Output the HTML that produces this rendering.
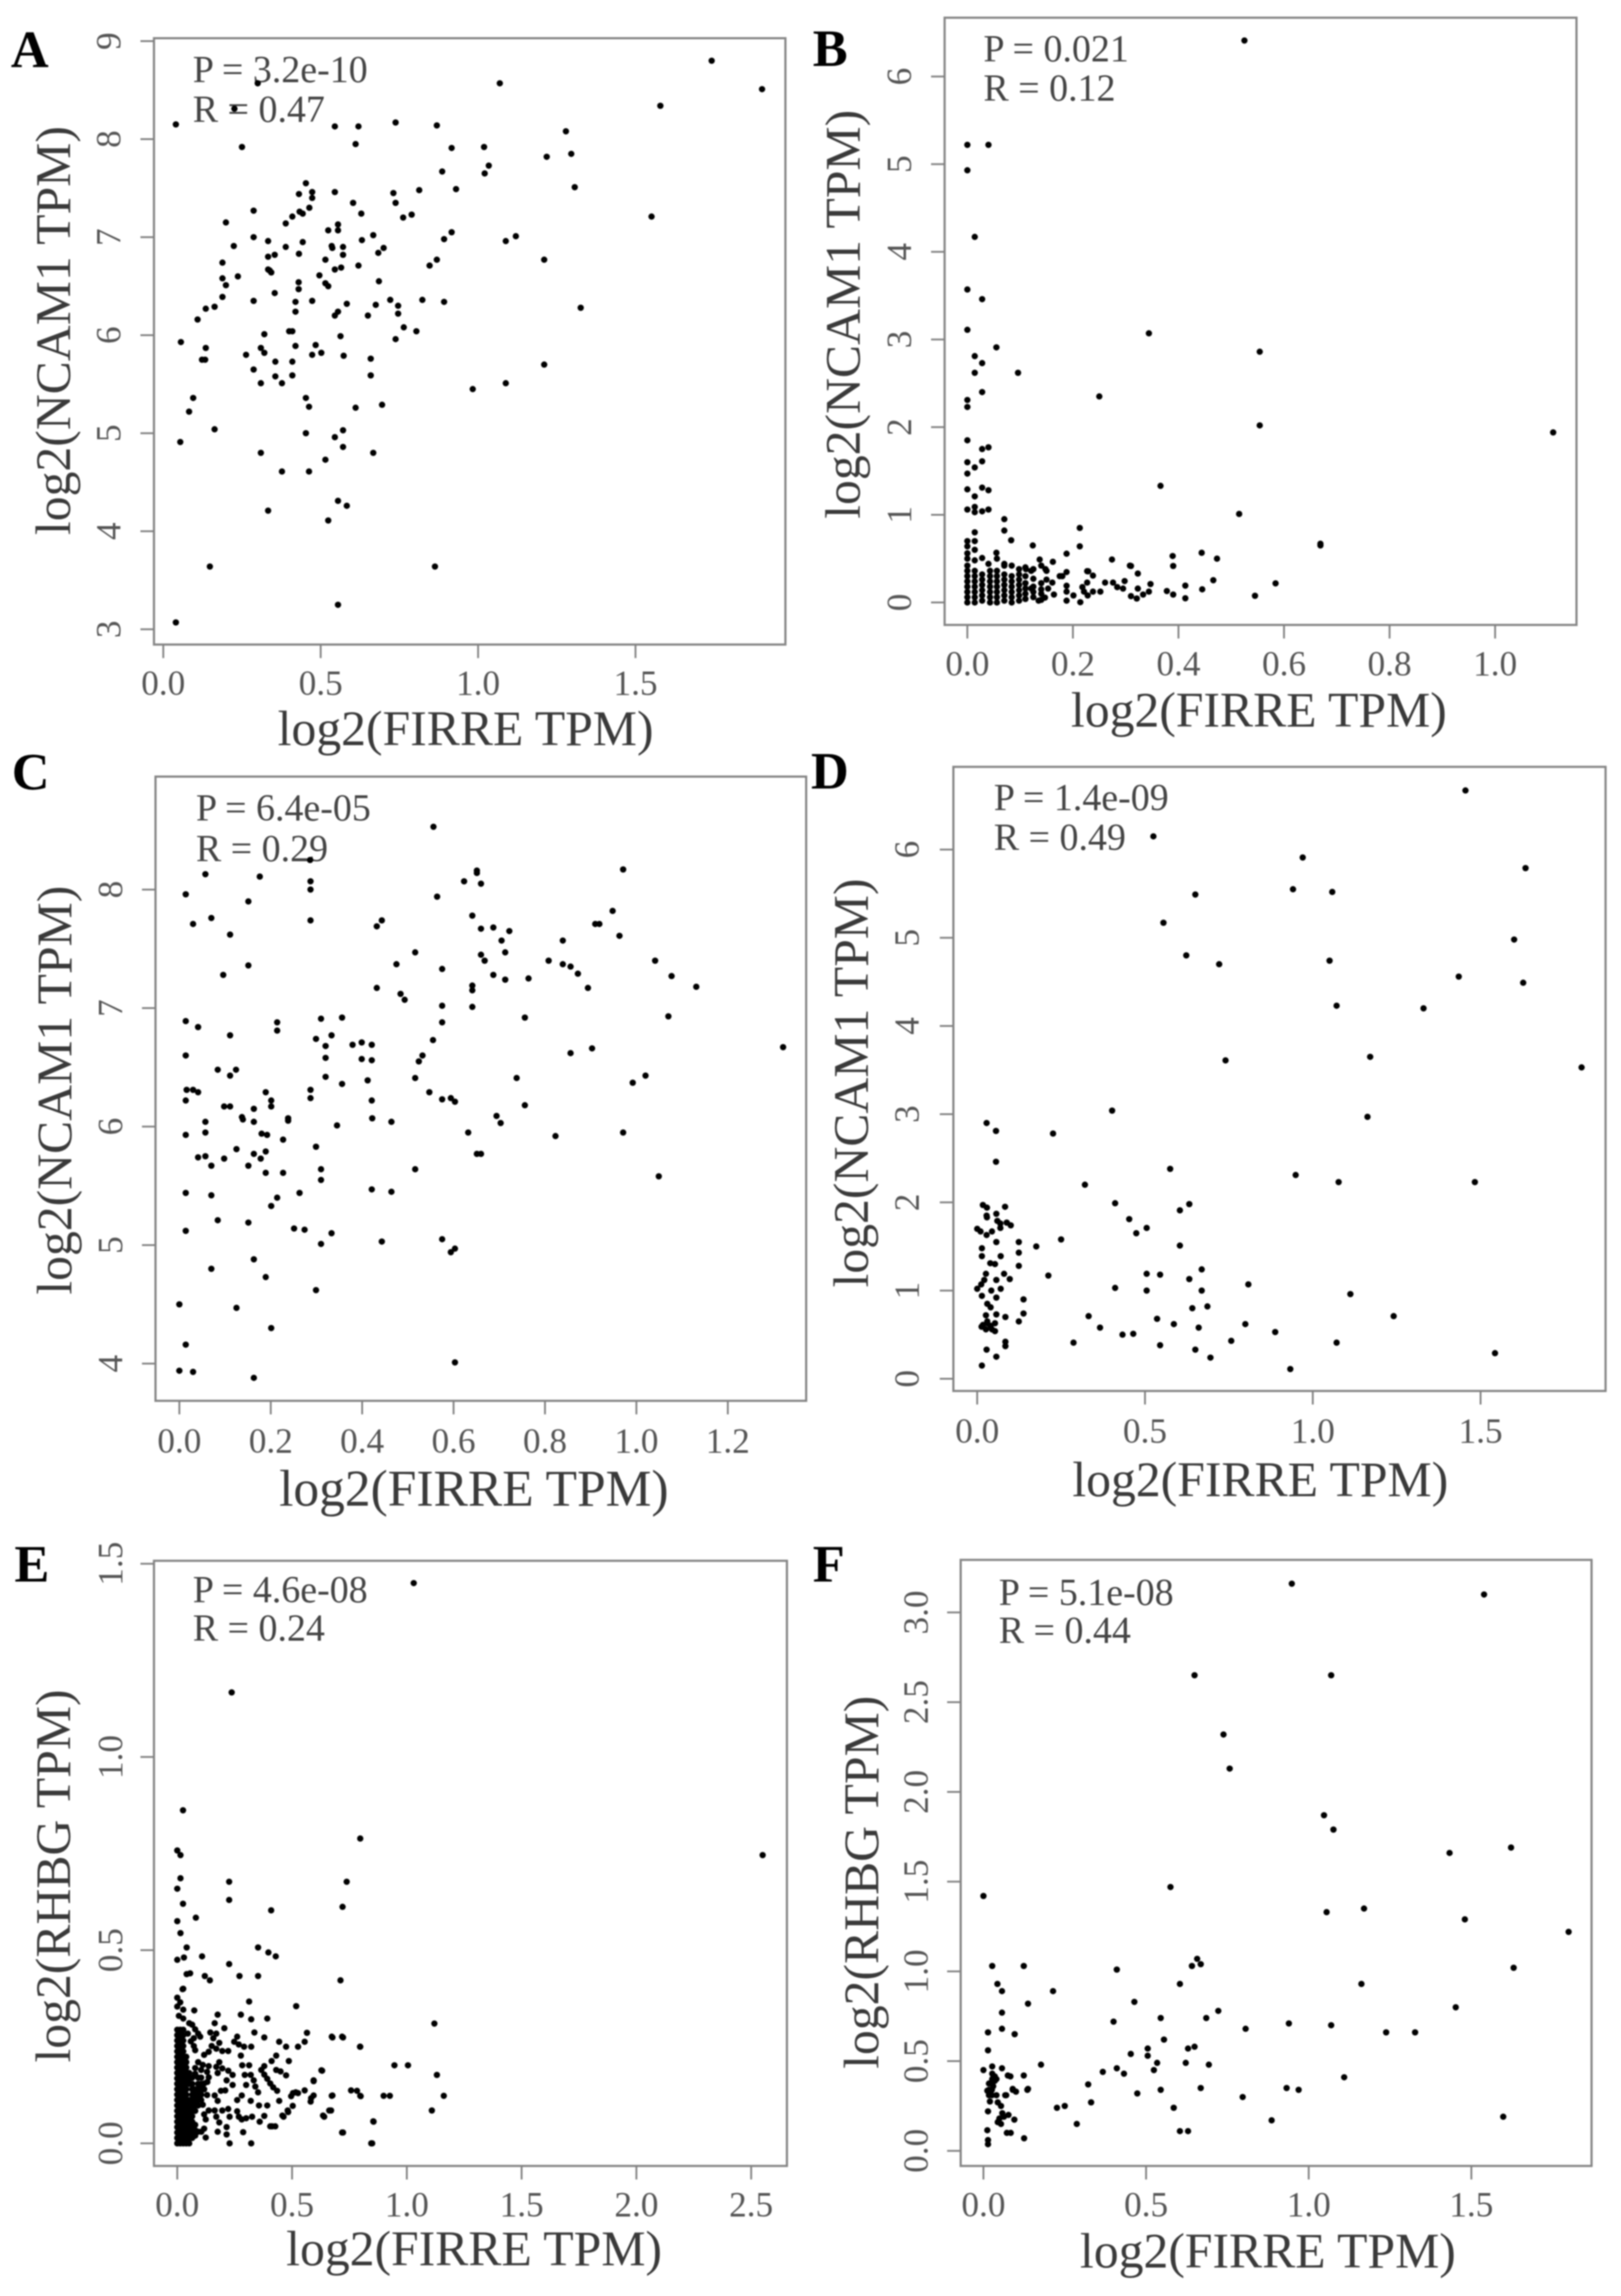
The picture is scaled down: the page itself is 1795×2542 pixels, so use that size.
<!DOCTYPE html>
<html lang="en">
<head>
<meta charset="utf-8">
<title>FIRRE vs NCAM1 and RHBG scatter plots</title>
<style>
html,body{margin:0;padding:0;background:#fff;}
svg{display:block;filter:blur(0.7px);}
text{font-family:"Liberation Serif",serif;}
.letter{font-size:58px;font-weight:bold;fill:#000;}
.stat{font-size:42px;fill:#444;}
.title{font-size:55px;fill:#3a3a3a;text-anchor:middle;}
.box{fill:none;stroke:#858585;stroke-width:2.4;}
</style>
</head>
<body>
<svg id="figure" xmlns="http://www.w3.org/2000/svg" width="1795" height="2542" viewBox="0 0 1795 2542">
<rect x="0" y="0" width="1795" height="2542" fill="#fff"/>

<g id="panel-a">
<text class="letter" x="12" y="74">A</text>
<rect class="box" x="170.5" y="42.3" width="699.2" height="671.3"/>
<text class="stat" x="213.5" y="91">P = 3.2e-10</text>
<text class="stat" x="213.5" y="135">R = 0.47</text>
<text class="title" x="515.6" y="825">log2(FIRRE TPM)</text>
<text class="title" transform="translate(77.5 366) rotate(-90)">log2(NCAM1 TPM)</text>
</g>

<g id="panel-b">
<text class="letter" x="900" y="73">B</text>
<rect class="box" x="1046" y="19.6" width="699.7" height="672.3"/>
<text class="stat" x="1089" y="67.8">P = 0.021</text>
<text class="stat" x="1089" y="111.7">R = 0.12</text>
<text class="title" x="1394" y="804.7">log2(FIRRE TPM)</text>
<text class="title" transform="translate(952 348) rotate(-90)">log2(NCAM1 TPM)</text>
</g>

<g id="panel-c">
<text class="letter" x="13" y="874">C</text>
<rect class="box" x="172.2" y="859.8" width="720.5" height="691.1"/>
<text class="stat" x="217" y="908.6">P = 6.4e-05</text>
<text class="stat" x="217" y="953.6">R = 0.29</text>
<text class="title" x="524.7" y="1667" font-size="57" style="font-size:57px">log2(FIRRE TPM)</text>
<text class="title" transform="translate(79 1207) rotate(-90)">log2(NCAM1 TPM)</text>
</g>

<g id="panel-d">
<text class="letter" x="898" y="873">D</text>
<rect class="box" x="1055.7" y="849" width="722.2" height="691"/>
<text class="stat" x="1100.5" y="897">P = 1.4e-09</text>
<text class="stat" x="1100.5" y="941">R = 0.49</text>
<text class="title" x="1395.6" y="1656.6">log2(FIRRE TPM)</text>
<text class="title" transform="translate(961 1199) rotate(-90)">log2(NCAM1 TPM)</text>
</g>

<g id="panel-e">
<text class="letter" x="16" y="1751">E</text>
<rect class="box" x="170.5" y="1728" width="700.9" height="670"/>
<text class="stat" x="213.5" y="1774">P = 4.6e-08</text>
<text class="stat" x="213.5" y="1816.6">R = 0.24</text>
<text class="title" x="525" y="2508">log2(FIRRE TPM)</text>
<text class="title" transform="translate(77.5 2077) rotate(-90)">log2(RHBG TPM)</text>
</g>

<g id="panel-f">
<text class="letter" x="900" y="1751">F</text>
<rect class="box" x="1063.8" y="1727" width="698.6" height="671"/>
<text class="stat" x="1106" y="1777">P = 5.1e-08</text>
<text class="stat" x="1106" y="1819">R = 0.44</text>
<text class="title" x="1404" y="2510.6">log2(FIRRE TPM)</text>
<text class="title" transform="translate(972.5 2084) rotate(-90)">log2(RHBG TPM)</text>
</g>
</svg>

<script>
const panelAXTicks = ["0.0","0.5","1.0","1.5"];
const panelAYTicks = ["3","4","5","6","7","8","9"];
const panelAPoints = [[.04,8.15],[.056,5.93],[.054,4.91],[.04,3.07],[.148,3.64],[.163,5.04],[.095,5.36],[.082,5.22],[.123,5.75],[.133,5.75],[.135,5.87],[.109,6.16],[.135,6.27],[.163,6.29],[.188,6.39],[.199,6.51],[.188,6.58],[.188,6.74],[.237,6.6],[.224,6.91],[.199,7.15],[.25,7.92],[.3,8.57],[.226,8.31],[.287,7.27],[.287,7],[.287,6.35],[.333,6.96],[.333,6.8],[.354,6.82],[.389,6.9],[.389,7.14],[.41,7.21],[.433,7.26],[.443,7.24],[.431,7.44],[.464,7.3],[.473,7.46],[.473,7.4],[.453,7.55],[.545,7.46],[.603,7.35],[.629,7.24],[.545,8.13],[.62,8.13],[.611,7.95],[.738,8.17],[.869,8.14],[1.069,8.57],[1.742,8.8],[1.902,8.51],[1.579,8.34],[1.279,8.08],[1.296,7.85],[1.218,7.82],[1.019,7.92],[.916,7.91],[1.034,7.73],[1.021,7.65],[.886,7.67],[.93,7.49],[.813,7.48],[.731,7.45],[.738,7.35],[.762,7.2],[.789,7.23],[1.307,7.51],[1.551,7.21],[1.12,7.01],[1.088,6.96],[1.21,6.77],[.916,7.05],[.892,6.98],[.869,6.77],[.846,6.71],[1.326,6.28],[.892,6.34],[.823,6.36],[1.21,5.7],[1.088,5.51],[.983,5.45],[.863,3.64],[.555,3.25],[.524,4.11],[.555,4.31],[.583,4.26],[.333,4.21],[.377,4.61],[.463,4.61],[.515,4.73],[.31,4.8],[.453,5],[.545,4.96],[.571,5.03],[.571,4.86],[.667,4.8],[.695,5.29],[.611,5.26],[.463,5.27],[.453,5.36],[.31,5.51],[.377,5.51],[.356,5.58],[.41,5.59],[.287,5.65],[.263,5.8],[.31,5.87],[.321,5.82],[.321,6.01],[.356,5.73],[.41,5.73],[.42,5.89],[.4,6.04],[.41,6.04],[.42,6.24],[.42,6.34],[.473,6.35],[.43,6.47],[.43,6.54],[.354,6.43],[.338,6.66],[.343,6.64],[.333,6.67],[.431,6.83],[.443,6.95],[.515,6.77],[.496,6.61],[.515,6.53],[.524,6.5],[.545,6.67],[.565,6.69],[.535,6.91],[.537,6.89],[.571,6.9],[.571,6.82],[.631,6.97],[.667,7.02],[.683,6.84],[.7,6.89],[.62,6.71],[.524,7.07],[.555,7.13],[.555,7.07],[.685,6.55],[.583,6.32],[.545,6.2],[.555,6.24],[.65,6.2],[.675,6.31],[.721,6.36],[.746,6.3],[.746,6.22],[.764,6.08],[.804,6.04],[.738,5.96],[.563,5.99],[.484,5.9],[.473,5.8],[.502,5.82],[.573,5.79],[.659,5.76],[.659,5.59]];

const panelBXTicks = ["0.0","0.2","0.4","0.6","0.8","1.0"];
const panelBYTicks = ["0","1","2","3","4","5","6"];
const panelBPoints = [[.525,6.41],[0,5.22],[.04,5.22],[0,4.93],[.014,4.17],[0,3.57],[.028,3.46],[0,3.11],[.344,3.07],[.055,2.91],[.554,2.86],[.014,2.81],[.028,2.73],[.014,2.62],[.096,2.62],[.028,2.4],[.25,2.35],[0,2.31],[0,2.23],[.554,2.02],[1.11,1.94],[0,1.85],[.04,1.77],[.028,1.75],[.028,1.61],[0,1.6],[.014,1.54],[0,1.47],[.366,1.33],[0,1.29],[.028,1.31],[.04,1.28],[.014,1.21],[0,1.06],[.014,1.09],[.014,1.03],[.028,1.04],[.04,1.06],[.515,1.01],[.07,.95],[.07,.82],[.083,.71],[.213,.85],[.213,.64],[.124,.65],[.669,.67],[.669,.65],
[0,0],[0,.06],[0,.12],[0,.18],[0,.24],[0,.3],[0,.36],[0,.42],[0,.5],[0,.56],[0,.64],[0,.7],
[.014,0],[.014,.06],[.014,.12],[.014,.18],[.014,.24],[.014,.3],[.014,.36],[.014,.48],[.014,.6],[.014,.7],[.014,.8],
[.028,.02],[.028,.08],[.028,.14],[.028,.2],[.028,.26],[.028,.32],[.043,0],[.043,.06],[.043,.12],[.043,.18],[.043,.24],[.043,.3],[.043,.36],
[.056,0],[.056,.06],[.056,.12],[.056,.18],[.056,.24],[.056,.3],[.056,.36],[.056,.5],[.07,.02],[.07,.08],[.07,.14],[.07,.2],[.07,.26],[.07,.32],[.07,.42],
[.084,0],[.084,.06],[.084,.12],[.084,.18],[.084,.24],[.084,.3],[.084,.42],[.098,.02],[.098,.08],[.098,.14],[.098,.2],[.098,.26],[.098,.32],[.098,.38],
[.11,.04],[.11,.1],[.11,.16],[.11,.22],[.11,.3],[.11,.4],[.125,.06],[.125,.12],[.125,.18],[.125,.27],[.125,.38],[.14,.03],[.14,.1],[.14,.15],[.14,.22],[.14,.42],
[.121,.36],[.15,.36],[.121,.16],[.135,.02],[.147,.055],[.153,.158],[.164,.09],[.161,.227],[.15,.26],[.175,.3],[.188,.347],[.188,.19],[.188,.124],[.188,.02],[.201,.08],[.214,.003],[.218,.175],[.227,.227],[.221,.124],[.228,.08],[.238,.124],[.252,.124],[.227,.357],[.238,.306],[.261,.227],[.276,.227],[.284,.175],[.295,.158],[.298,.244],[.31,.416],[.323,.33],[.31,.072],[.321,.045],[.333,.09],[.344,.124],[.347,.21],[.323,.158],[.378,.13],[.39,.09],[.39,.416],[.413,.192],[.413,.048],[.445,.15],[.466,.254],[.389,.53],[.444,.567],[.473,.5],[.584,.218],[.545,.076],[.308,.42],[.274,.49],[.188,.556],[.162,.464],[.137,.49],[.148,.38],[.111,.38],[.055,.567],[.028,.507],[.04,.44],[.07,.44],[.229,.355],[.18,.3]];

const panelCXTicks = ["0.0","0.2","0.4","0.6","0.8","1.0","1.2"];
const panelCYTicks = ["4","5","6","7","8"];
const panelCPoints = [[.556,8.53],[.971,8.17],[.651,8.16],[.651,8.14],[.623,8.07],[.66,8.05],[.057,8.13],[.176,8.11],[.287,8.07],[.287,8],[.286,8.25],[.014,7.96],[.151,7.9],[.564,7.94],[.03,7.71],[.07,7.76],[.287,7.74],[.443,7.74],[.432,7.69],[.111,7.62],[.641,7.78],[.66,7.67],[.687,7.68],[.722,7.65],[.705,7.57],[.713,7.47],[.516,7.47],[.66,7.45],[.668,7.4],[.839,7.57],[.91,7.71],[.919,7.71],[.948,7.82],[.963,7.61],[.808,7.4],[.839,7.37],[.856,7.35],[.872,7.29],[.894,7.17],[1.041,7.4],[1.077,7.27],[1.131,7.18],[.764,7.25],[.687,7.28],[.713,7.24],[.575,7.33],[.475,7.37],[.151,7.36],[.096,7.28],[.432,7.17],[.484,7.12],[.493,7.07],[.641,7.19],[.641,7.15],[.641,7.01],[.575,7.02],[.575,6.88],[.756,6.92],[1.07,6.93],[.356,6.92],[.31,6.91],[.214,6.88],[.214,6.81],[.014,6.89],[.041,6.84],[.111,6.77],[.333,6.77],[.299,6.74],[.32,6.68],[.32,6.58],[.379,6.69],[.399,6.71],[.421,6.69],[.399,6.57],[.421,6.56],[.555,6.73],[.532,6.6],[.524,6.55],[.856,6.62],[.903,6.66],[1.321,6.67],[.014,6.6],[.084,6.48],[.124,6.48],[.111,6.43],[.32,6.42],[.412,6.39],[.516,6.41],[.738,6.41],[1.02,6.43],[.992,6.37],[.356,6.36],[.016,6.31],[.03,6.31],[.041,6.29],[.014,6.22],[.189,6.29],[.287,6.31],[.287,6.24],[.201,6.22],[.201,6.17],[.421,6.22],[.547,6.29],[.575,6.23],[.594,6.24],[.603,6.21],[.756,6.18],[.098,6.17],[.111,6.17],[.163,6.15],[.137,6.08],[.139,6.06],[.238,6.07],[.238,6.05],[.163,6.04],[.057,6.04],[.057,5.95],[.014,5.93],[.422,6.07],[.464,6.04],[.345,6.01],[.694,6.09],[.703,6.03],[.632,5.95],[.823,5.92],[.971,5.95],[.18,5.94],[.192,5.93],[.227,5.89],[.299,5.83],[.189,5.79],[.125,5.81],[.041,5.74],[.057,5.75],[.098,5.73],[.163,5.77],[.178,5.73],[.07,5.67],[.151,5.67],[.651,5.77],[.66,5.77],[.189,5.61],[.227,5.61],[.31,5.64],[.31,5.55],[.516,5.64],[1.049,5.58],[.421,5.47],[.464,5.45],[.014,5.44],[.07,5.42],[.263,5.44],[.214,5.4],[.201,5.33],[.084,5.21],[.151,5.19],[.014,5.12],[.251,5.14],[.274,5.13],[.333,5.1],[.31,5.01],[.443,5.03],[.575,5.05],[.603,4.97],[.594,4.94],[.07,4.8],[.163,4.88],[.189,4.73],[.299,4.62],[0,4.5],[.125,4.47],[.201,4.3],[.014,4.16],[.603,4.01],[0,3.94],[.03,3.93],[.163,3.88]];

const panelDXTicks = ["0.0","0.5","1.0","1.5"];
const panelDYTicks = ["0","1","2","3","4","5","6"];
const panelDPoints = [[1.455,6.67],[.525,6.15],[.97,5.91],[1.634,5.79],[.941,5.55],[1.058,5.52],[.65,5.49],[.555,5.17],[1.6,4.98],[.623,4.8],[1.05,4.74],[.721,4.7],[1.435,4.56],[1.627,4.49],[1.071,4.23],[1.33,4.2],[.74,3.61],[1.171,3.65],[1.801,3.53],[.402,3.04],[1.163,2.97],[.028,2.9],[.056,2.81],[.226,2.78],[.056,2.46],[.575,2.38],[.949,2.31],[1.077,2.23],[1.483,2.23],[.321,2.2],[.411,1.99],[.632,1.98],[.604,1.91],[.453,1.81],[.505,1.71],[.474,1.65],[.25,1.58],[.604,1.51],[.176,1.5],[.505,1.19],[.545,1.18],[.212,1.17],[.669,1.24],[.632,1.13],[.808,1.07],[.411,1.03],[.505,1],[.669,1],[1.112,.96],[.641,.8],[.686,.82],[.332,.71],[.536,.68],[1.241,.71],[.586,.62],[.799,.62],[.366,.58],[.66,.58],[.433,.5],[.465,.51],[.888,.53],[.287,.41],[.545,.38],[.757,.43],[1.071,.41],[.65,.33],[.695,.24],[1.543,.29],[.933,.11],
[.017,1.97],[.029,1.94],[.083,1.95],[.029,1.83],[.028,1.85],[.057,1.87],[.06,1.79],[.069,1.76],[.069,1.71],[.088,1.77],[.1,1.74],[0,1.7],[.01,1.67],[.028,1.63],[.044,1.67],[.057,1.55],[.124,1.55],[.014,1.48],[.014,1.39],[.07,1.39],[.124,1.43],[.039,1.31],[.053,1.3],[.124,1.28],[.026,1.19],[.021,1.12],[.012,1.07],[0,1.02],[.057,1.12],[.08,1.19],[.097,1.13],[.07,1.02],[.042,1],[.014,.94],[.057,.92],[.03,.85],[.04,.81],[.138,.9],[.026,.72],[.057,.73],[.084,.7],[.138,.74],[.124,.65],[.017,.61],[.03,.63],[.04,.6],[.053,.63],[.026,.56],[.053,.54],[.013,.59],[.044,.56],[.03,.65],[.084,.42],[.084,.37],[.028,.33],[.057,.25],[.014,.15]];

const panelEXTicks = ["0.0","0.5","1.0","1.5","2.0","2.5"];
const panelEYTicks = ["0.0","0.5","1.0","1.5"];
const panelEPoints = [[1.03,1.45],[.237,1.167],[.025,.862],[.797,.789],[2.55,.746],[0,.758],[.014,.746],[.738,.677],[.014,.686],[.226,.677],[0,.659],[.226,.63],[.025,.62],[.72,.612],[.409,.603],[.081,.584],[0,.575],[.014,.544],[.352,.507],[.397,.494],[.429,.484],[.041,.507],[.108,.484],[0,.475],[.029,.481],[.226,.464],[.271,.433],[.352,.433],[.041,.438],[.056,.44],[.12,.433],[.142,.422],[.711,.422],[.023,.399],[1.12,.31],[1.131,.177],[1.005,.202],[.946,.202],[1.161,.123],[1.109,.085],[.899,.123],[.926,.123],[.854,.057],[.845,0],[.718,.028],[.797,.25],[.673,.276],[.718,.276],[.797,.123],[.628,.189],[.594,.161],[.673,.123],[.583,.117],[.662,.085],[.635,.072],[.481,.085],[.458,.072],[.504,.13],[.526,.13],[.413,.044],
[.026,.4],[0,.377],[.013,.365],[0,.354],[.026,.346],[.007,.33],[.026,.323],[.074,.344],[.176,.333],[.163,.311],[.205,.298],[.277,.333],[.322,.321],[.392,.323],[.313,.367],[.518,.355],[.052,.311],[.065,.307],[.078,.295],[.091,.284],[.1,.276],[.072,.272],[.059,.264],[.072,.252],[.078,.241],[.046,.284],[.144,.287],[.17,.284],[.157,.272],[.183,.26],[.15,.252],[.17,.245],[.137,.237],[.196,.239],[.222,.239],[.117,.229],[.336,.287],[.379,.274],[.261,.276],[.248,.263],[.268,.256],[.291,.25],[.322,.25],[.444,.263],[.474,.25],[.526,.25],[.555,.263],[.565,.286],[.676,.274],[.722,.274],[.796,.25],[.277,.227],[.431,.227],[.411,.213],[.486,.213],[.283,.202],[.313,.202],[.379,.2],[.366,.19],[.379,.178],[.392,.167],[.405,.155],[.418,.145],[.435,.136],[.431,.19],[.45,.186],[.474,.176],[.631,.188],[.594,.163],[.294,.177],[.32,.177],[.333,.163],[.34,.147],[.352,.132],[.3,.151],[.183,.21],[.17,.198],[.196,.194],[.176,.182],[.222,.188],[.241,.177],[.137,.2],[.111,.203],[.137,.171],[.131,.159],[.215,.163],[.241,.151],[.209,.137],[.19,.136],[.163,.124],[.176,.11],[.281,.124],[.261,.112],[.32,.11],[.356,.098],[.392,.098],[.444,.11],[.516,.132],[.496,.122],[.555,.137],[.594,.124],[.581,.108],[.676,.124],[.757,.137],[.783,.136],[.799,.122],[.503,.097],[.483,.081],[.463,.069],[.67,.085],[.64,.069],[.111,.1],[.137,.085],[.163,.085],[.196,.085],[.222,.089],[.228,.069],[.261,.083],[.268,.069],[.281,.062],[.3,.065],[.326,.069],[.359,.056],[.379,.071],[.17,.069],[.183,.054],[.176,.03],[.215,.042],[.215,.023],[.228,0],[.287,.029],[.322,0],[.405,.044],[.427,.044],[.722,.028],[.849,0],[.855,.056],[.124,.062],[.117,.038],[.124,.015],[.105,.03],
[0,0],[0,.014],[0,.028],[0,.042],[0,.056],[0,.07],[0,.084],[0,.098],[0,.112],[0,.126],[0,.14],[0,.154],[0,.168],[0,.182],[0,.196],[0,.21],[0,.224],[0,.238],[0,.252],[0,.266],[0,.28],[0,.294],
[.013,0],[.013,.014],[.013,.028],[.013,.042],[.013,.056],[.013,.07],[.013,.084],[.013,.098],[.013,.112],[.013,.126],[.013,.14],[.013,.154],[.013,.168],[.013,.182],[.013,.196],[.013,.21],[.013,.224],[.013,.238],[.013,.252],[.013,.266],[.013,.28],[.013,.294],
[.026,0],[.026,.014],[.026,.028],[.026,.042],[.026,.056],[.026,.07],[.026,.084],[.026,.098],[.026,.112],[.026,.126],[.026,.14],[.026,.154],[.026,.168],[.026,.182],[.026,.196],[.026,.21],[.026,.224],[.026,.238],[.026,.252],[.026,.266],[.026,.28],[.026,.294],
[.039,0],[.039,.014],[.039,.028],[.039,.042],[.039,.056],[.039,.07],[.039,.084],[.039,.098],[.039,.112],[.039,.126],[.039,.14],[.039,.154],[.039,.168],[.039,.182],[.039,.196],[.039,.21],[.039,.224],
[.052,0],[.052,.014],[.052,.028],[.052,.042],[.052,.056],[.052,.07],[.052,.084],[.052,.098],[.052,.112],[.052,.154],[.052,.168],[.052,.182],
[.065,.014],[.065,.028],[.065,.042],[.065,.056],[.065,.07],[.065,.084],[.065,.098],[.065,.112],[.065,.126],[.065,.14],[.065,.154],[.065,.17],
[.078,.02],[.078,.034],[.078,.048],[.078,.084],[.078,.098],[.078,.112],[.078,.126],[.078,.14],[.078,.18],[.078,.195],
[.091,.03],[.091,.098],[.091,.112],[.091,.126],[.091,.14],[.091,.154],[.091,.17],[.091,.21],
[.104,.112],[.104,.126],[.104,.14],[.104,.154],[.104,.17],[.104,.19],[.117,.14],[.117,.155],[.117,.075],[.13,.125],[.13,.185]];

const panelFXTicks = ["0.0","0.5","1.0","1.5"];
const panelFYTicks = ["0.0","0.5","1.0","1.5","2.0","2.5","3.0"];
const panelFPoints = [[.948,3.16],[1.539,3.1],[.649,2.65],[1.069,2.65],[.738,2.32],[.757,2.13],[1.047,1.87],[1.076,1.79],[1.622,1.69],[1.433,1.66],[.575,1.47],[0,1.42],[1.48,1.29],[1.055,1.33],[1.17,1.35],[1.799,1.22],[1.63,1.02],[1.162,.93],[.027,1.03],[.124,1.03],[.41,1.01],[.641,1.03],[.657,1.07],[.668,1.04],[.604,.93],[.043,.93],[.057,.89],[.214,.89],[.137,.82],[.464,.83],[.057,.77],[1.452,.8],[.722,.78],[.545,.74],[.685,.74],[.4,.72],[.939,.71],[1.069,.7],[.057,.68],[.014,.66],[.096,.65],[.806,.68],[1.238,.66],[1.327,.66],[.555,.62],[.014,.56],[.505,.57],[.629,.57],[.649,.58],[.453,.54],[.505,.53],[.534,.49],[.622,.49],[.693,.48],[.177,.48],[.41,.46],[.524,.45],[0,.45],[.057,.46],[.124,.42],[.367,.44],[.432,.43],[1.109,.41],[.322,.37],[.135,.34],[.545,.34],[.668,.35],[.932,.35],[.969,.34],[.473,.32],[.797,.3],[.331,.27],[.226,.24],[.25,.25],[.585,.24],[.287,.15],[.886,.17],[1.598,.19],[.604,.11],[.629,.11],
[.012,.115],[.014,.06],[.014,.037],[.072,.1],[.084,.1],[.125,.07],[.137,.345],[.07,.31],[.09,.345],[.1,.33],[.014,.22],[.044,.27],[.054,.25],[.058,.21],[.044,.16],[.054,.15],[.049,.18],[.063,.19],[.077,.2],[.095,.174],[.017,.375],[.017,.34],[.017,.31],[.026,.385],[.035,.39],[.04,.4],[.026,.34],[.026,.31],[.04,.31],[.02,.275],[.027,.47],[.027,.43],[.027,.4],[.035,.415],[.03,.36],[.012,.335],[.02,.325],[.075,.42],[.083,.415],[.09,.34],[.067,.31]];

const svgNS = "http://www.w3.org/2000/svg";

function drawPanel(panel) {
  const group = document.getElementById("panel-" + panel.id);
  const xScale = function (v) { return panel.xZero + v * panel.xUnit; };
  const yScale = function (v) { return panel.yZero - (v - panel.yBase) * panel.yUnit; };

  panel.xTicks.forEach(function (label) {
    const px = xScale(Number(label));
    const tick = document.createElementNS(svgNS, "line");
    
    
    tick.setAttribute("x1", px);
    tick.setAttribute("x2", px);
    tick.setAttribute("y1", panel.bottom);
    tick.setAttribute("y2", panel.bottom + 15);
    tick.setAttribute("stroke", "#808080");
    tick.setAttribute("stroke-width", "2");
    group.appendChild(tick);
    const text = document.createElementNS(svgNS, "text");
    
    
    text.setAttribute("x", px);
    text.setAttribute("y", panel.xLabelY);
    text.setAttribute("text-anchor", "middle");
    text.setAttribute("font-size", "39");
    text.setAttribute("fill", "#555");
    text.textContent = label;
    group.appendChild(text);
  });

  panel.yTicks.forEach(function (label) {
    const py = yScale(Number(label));
    const tick = document.createElementNS(svgNS, "line");
    
    
    tick.setAttribute("x1", panel.left);
    tick.setAttribute("x2", panel.left - 15);
    tick.setAttribute("y1", py);
    tick.setAttribute("y2", py);
    tick.setAttribute("stroke", "#808080");
    tick.setAttribute("stroke-width", "2");
    group.appendChild(tick);
    const text = document.createElementNS(svgNS, "text");
    
    
    text.setAttribute("transform", "translate(" + panel.yLabelX + " " + py + ") rotate(-90)");
    text.setAttribute("text-anchor", "middle");
    text.setAttribute("font-size", "39");
    text.setAttribute("fill", "#555");
    text.textContent = label;
    group.appendChild(text);
  });

  panel.points.forEach(function (point) {
    const dot = document.createElementNS(svgNS, "circle");
    
    
    dot.setAttribute("cx", xScale(point[0]));
    dot.setAttribute("cy", yScale(point[1]));
    dot.setAttribute("r", "3.5");
    dot.setAttribute("fill", "#000");
    group.appendChild(dot);
  });
}

drawPanel({id:"a",points:panelAPoints,xTicks:panelAXTicks,yTicks:panelAYTicks,xZero:180.8,xUnit:348.6,yZero:696.7,yBase:3,yUnit:108.53,left:170.5,bottom:713.6,xLabelY:769,yLabelX:133});
drawPanel({id:"b",points:panelBPoints,xTicks:panelBXTicks,yTicks:panelBYTicks,xZero:1071.2,xUnit:584.4,yZero:667,yBase:0,yUnit:97.05,left:1046,bottom:691.9,xLabelY:747.5,yLabelX:1008.7});
drawPanel({id:"c",points:panelCPoints,xTicks:panelCXTicks,yTicks:panelCYTicks,xZero:198.6,xUnit:506.1,yZero:1509.7,yBase:4,yUnit:131.2,left:172.2,bottom:1550.9,xLabelY:1607.8,yLabelX:135});
drawPanel({id:"d",points:panelDPoints,xTicks:panelDXTicks,yTicks:panelDYTicks,xZero:1082.1,xUnit:371.6,yZero:1526.5,yBase:0,yUnit:97.65,left:1055.7,bottom:1540,xLabelY:1597,yLabelX:1017});
drawPanel({id:"e",points:panelEPoints,xTicks:panelEXTicks,yTicks:panelEYTicks,xZero:196.3,xUnit:254.2,yZero:2373,yBase:0,yUnit:427.8,left:170.5,bottom:2398,xLabelY:2453.6,yLabelX:135});
drawPanel({id:"f",points:panelFPoints,xTicks:panelFXTicks,yTicks:panelFYTicks,xZero:1089,xUnit:360.2,yZero:2381.3,yBase:0,yUnit:198.7,left:1063.8,bottom:2398,xLabelY:2453.6,yLabelX:1027});
</script>
</body>
</html>
